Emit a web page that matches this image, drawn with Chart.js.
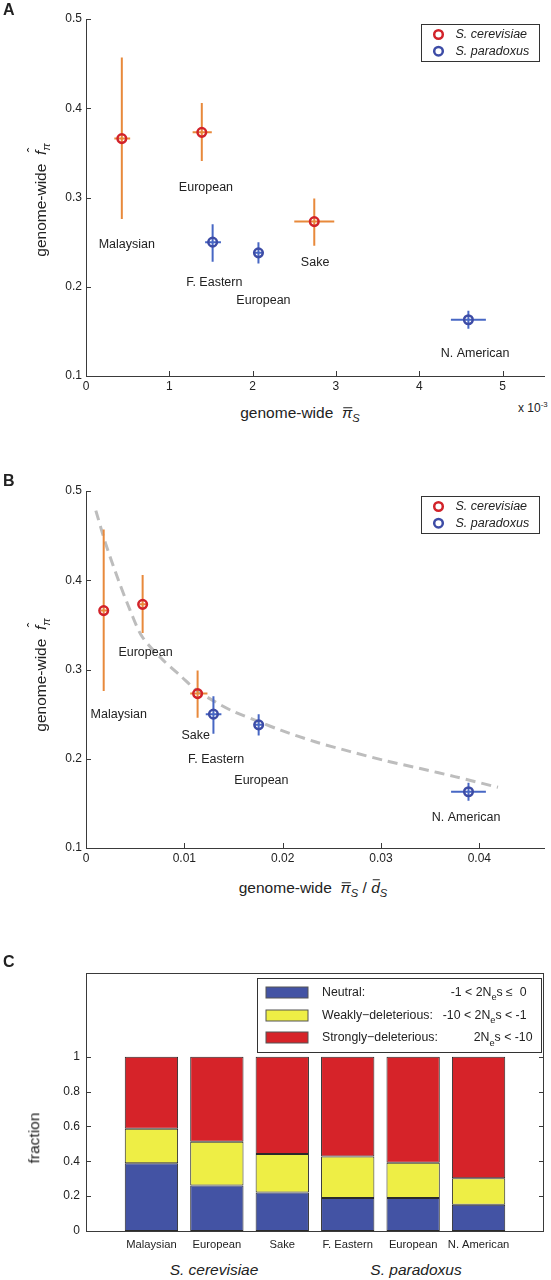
<!DOCTYPE html>
<html><head><meta charset="utf-8">
<script src="https://cdn.jsdelivr.net/npm/chart.js@4.4.1/dist/chart.umd.min.js"></script>
<style>
html,body{margin:0;padding:0;background:#fff;}
#page{position:relative;width:551px;height:1280px;overflow:hidden;font-family:'Liberation Sans',Arial,Helvetica,sans-serif;color:#222;}
canvas{position:absolute;left:0;}
.t{position:absolute;line-height:1;white-space:nowrap;transform:translate(-50%,-50%);}
.l{transform:translate(0,-50%);}
.rot{transform:translate(-50%,-50%) rotate(-90deg);}
.lt{font-weight:bold;font-size:16px;}
sub{font-size:0.72em;vertical-align:-0.3em;line-height:0;}
sup{font-size:0.65em;vertical-align:0.6em;line-height:0;}
.bar{position:relative;display:inline-block;}
.bar::after{content:'';position:absolute;left:0.08em;right:-0.02em;top:0.1em;border-top:1.2px solid #222;}
.bar.hi::after{top:-0.04em;}
.hat{position:relative;display:inline-block;}
.hat .h{position:absolute;left:0.2em;top:-0.42em;font-style:normal;font-size:0.9em;}
</style></head>
<body><div id="page">
<canvas id="cA" width="551" height="400" style="top:0px"></canvas>
<canvas id="cB" width="551" height="400" style="top:472px"></canvas>
<canvas id="cC" width="551" height="310" style="top:950px"></canvas>

<div class="t l lt" style="left:3px;top:10px">A</div>
<div class="t l lt" style="left:3px;top:481px">B</div>
<div class="t l lt" style="left:3px;top:962px">C</div>

<div class="t rot" style="left:40.5px;top:200px;font-size:15.5px">genome-wide&nbsp;&nbsp;<span class="hat"><i>f</i><span class="h">ˆ</span></span><sub><i>π</i></sub></div>
<div class="t" style="left:300px;top:413px;font-size:15.5px">genome-wide&nbsp;&nbsp;<span class="bar"><i>π</i></span><sub><i>S</i></sub></div>
<div class="t l" style="left:518px;top:408px;font-size:12px">x 10<sup>-3</sup></div>

<div class="t rot" style="left:40.5px;top:675px;font-size:15.5px">genome-wide&nbsp;&nbsp;<span class="hat"><i>f</i><span class="h">ˆ</span></span><sub><i>π</i></sub></div>
<div class="t" style="left:313px;top:888px;font-size:15.5px">genome-wide&nbsp;&nbsp;<span class="bar"><i>π</i></span><sub><i>S</i></sub> / <span class="bar hi"><i>d</i></span><sub><i>S</i></sub></div>

<div class="t rot" style="left:33.5px;top:1137.5px;font-size:15.5px">fraction</div>
<div class="t" style="left:214px;top:1269.5px;font-size:15.5px;font-style:italic">S. cerevisiae</div>
<div class="t" style="left:416px;top:1269.5px;font-size:15.5px;font-style:italic">S. paradoxus</div>
</div>
<script>
// ---------- data ----------
const populations = ['Malaysian', 'European', 'Sake', 'F. Eastern', 'European', 'N. American'];
const popSpecies = [0, 0, 0, 1, 1, 1];
const speciesNames = ['S. cerevisiae', 'S. paradoxus'];

// Panel A: genome-wide piS (x 10^-3) vs f_pi
const piS   = [0.43, 1.39, 2.74, 1.52, 2.07, 4.59];
const piSLo = [0.34, 1.28, 2.50, 1.43, 2.02, 4.38];
const piSHi = [0.53, 1.51, 2.98, 1.62, 2.13, 4.80];
const fPi   = [0.366, 0.373, 0.273, 0.250, 0.238, 0.163];
const fPiLo = [0.276, 0.341, 0.246, 0.228, 0.226, 0.153];
const fPiHi = [0.457, 0.406, 0.299, 0.270, 0.250, 0.173];
const annotXA = [0.49, 1.44, 2.75, 1.54, 2.13, 4.67];
const annotYA = [0.247, 0.311, 0.227, 0.205, 0.184, 0.125];
const xTicksA = [0, 1, 2, 3, 4, 5];
const yTicksAB = [0.1, 0.2, 0.3, 0.4, 0.5];

// Panel B: piS / dS vs f_pi
const piSdS   = [0.00180, 0.00576, 0.01135, 0.01296, 0.01756, 0.0389];
const piSdSLo = [0.00150, 0.00545, 0.01060, 0.01218, 0.01713, 0.03713];
const piSdSHi = [0.00215, 0.00610, 0.01235, 0.01377, 0.01802, 0.04067];
const annotXB = [0.00333, 0.00605, 0.01115, 0.01324, 0.01784, 0.03866];
const annotYB = [0.2495, 0.319, 0.2264, 0.1987, 0.1751, 0.1336];
const curveX = [0.0010, 0.0020, 0.0033, 0.0045, 0.0057, 0.0077, 0.0097, 0.0112, 0.0131, 0.0148, 0.0177, 0.0198, 0.0233, 0.0269, 0.0304, 0.0340, 0.0375, 0.0419];
const curveY = [0.478, 0.441, 0.400, 0.366, 0.337, 0.312, 0.292, 0.277, 0.264, 0.254, 0.241, 0.232, 0.219, 0.208, 0.198, 0.189, 0.180, 0.168];
const xTicksB = [0, 0.01, 0.02, 0.03, 0.04];

// Panel C: fractions of mutation classes
const neutral = [0.388, 0.261, 0.221, 0.190, 0.190, 0.150];
const weak    = [0.199, 0.251, 0.221, 0.238, 0.202, 0.153];
const strong  = [0.413, 0.488, 0.558, 0.572, 0.608, 0.697];
const classNames = ['Neutral:', 'Weakly\u2212deleterious:', 'Strongly\u2212deleterious:'];
const classRanges = [
  [['-1 < 2N', 0], ['e', 1], ['s \u2264  0', 0]],
  [['-10 < 2N', 0], ['e', 1], ['s < -1', 0]],
  [['2N', 0], ['e', 1], ['s < -10', 0]]
];
const xTicksC = [0, 1, 2, 3, 4, 5, 6, 7];
const yTicksC = [0, 0.2, 0.4, 0.6, 0.8, 1];

// ---------- styles ----------
const FONT = "'Liberation Sans', Arial, Helvetica, sans-serif";
const AXIS = '#3a3a3a';
const errColors = ['#E8893B', '#4767C4'];
const markerColors = ['#D2232A', '#3D4CA6'];
const classColors = ['#4353A4', '#EEEE45', '#D62329'];

Chart.defaults.font.family = FONT;
Chart.defaults.color = '#222';
Chart.defaults.animation = false;
Chart.defaults.events = [];
Chart.defaults.plugins.legend.display = false;
Chart.defaults.plugins.tooltip.enabled = false;

function linScale(min, max, tickVals, fitFn, pad, size, extra) {
  return Object.assign({
    type: 'linear', min: min, max: max,
    afterBuildTicks: s => { s.ticks = tickVals.map(v => ({ value: v })); },
    afterFit: fitFn,
    grid: { display: false, drawTicks: false },
    border: { display: true, color: AXIS, width: 1 },
    ticks: { padding: pad, font: { size: size }, color: '#222', autoSkip: false, maxRotation: 0, callback: v => String(v) }
  }, extra || {});
}

function inTicks(opts) {
  return {
    id: 'inTicks',
    afterDraw(chart) {
      const { ctx, chartArea: a } = chart;
      const xs = chart.scales.x, ys = chart.scales.y;
      ctx.save();
      ctx.strokeStyle = AXIS; ctx.lineWidth = 1;
      ctx.beginPath();
      if (opts.x) xs.ticks.forEach(t => {
        const p = Math.round(xs.getPixelForValue(t.value)) + 0.5;
        ctx.moveTo(p, a.bottom); ctx.lineTo(p, a.bottom - opts.len);
      });
      ys.ticks.forEach(t => {
        const p = Math.round(ys.getPixelForValue(t.value)) + 0.5;
        ctx.moveTo(a.left, p); ctx.lineTo(a.left + opts.len, p);
        if (opts.right) { ctx.moveTo(a.right, p); ctx.lineTo(a.right - opts.len, p); }
      });
      ctx.stroke();
      if (opts.box) {
        ctx.strokeRect(Math.round(a.left) + 0.5, Math.round(a.top) + 0.5, Math.round(a.right - a.left) - 1, Math.round(a.bottom - a.top));
      }
      ctx.restore();
    }
  };
}

function annotations(xs, ys) {
  return {
    id: 'annot',
    afterDatasetsDraw(chart) {
      const { ctx } = chart;
      ctx.save();
      ctx.font = '12.5px ' + FONT;
      ctx.fillStyle = '#222';
      ctx.textAlign = 'center';
      ctx.textBaseline = 'middle';
      populations.forEach((name, i) => {
        ctx.fillText(name, chart.scales.x.getPixelForValue(xs[i]), chart.scales.y.getPixelForValue(ys[i]));
      });
      ctx.restore();
    }
  };
}

const scatterLegend = {
  id: 'slegend',
  afterDraw(chart) {
    const { ctx, chartArea: a } = chart;
    const x0 = Math.round(a.right - 123) + 0.5, y0 = Math.round(a.top + 5) + 0.5, w = 118, h = 37;
    ctx.save();
    ctx.fillStyle = '#fff'; ctx.fillRect(x0, y0, w, h);
    ctx.strokeStyle = '#333'; ctx.lineWidth = 1; ctx.strokeRect(x0, y0, w, h);
    const marks = chart.data.datasets.filter(d => d.isMarker);
    marks.forEach((d, k) => {
      const cy = y0 + 10 + k * 16.7;
      ctx.beginPath(); ctx.arc(x0 + 17, cy, 4.3, 0, Math.PI * 2);
      ctx.lineWidth = 2.5; ctx.strokeStyle = d.pointBorderColor; ctx.stroke();
      ctx.fillStyle = '#222'; ctx.font = 'italic 12.5px ' + FONT;
      ctx.textAlign = 'left'; ctx.textBaseline = 'middle';
      ctx.fillText(d.label, x0 + 34, cy + 0.5);
    });
    ctx.restore();
  }
};

function scatterDatasets(xs, xLo, xHi, ys, yLo, yHi) {
  const out = [];
  [0, 1].forEach(s => {
    out.push({
      label: speciesNames[s], isMarker: true, order: 0,
      data: xs.map((x, i) => ({ x: x, y: ys[i] })).filter((_, i) => popSpecies[i] === s),
      pointRadius: 4.3, pointBorderWidth: 2.5,
      pointBorderColor: markerColors[s], pointBackgroundColor: 'rgba(0,0,0,0)'
    });
  });
  xs.forEach((x, i) => {
    const c = errColors[popSpecies[i]];
    out.push({ order: 1, showLine: true, pointRadius: 0, borderColor: c, borderWidth: 2,
      data: [{ x: xLo[i], y: ys[i] }, { x: xHi[i], y: ys[i] }] });
    out.push({ order: 1, showLine: true, pointRadius: 0, borderColor: c, borderWidth: 2,
      data: [{ x: x, y: yLo[i] }, { x: x, y: yHi[i] }] });
  });
  return out;
}

// ---------- Panel A ----------
new Chart(document.getElementById('cA'), {
  type: 'scatter',
  data: { datasets: scatterDatasets(piS, piSLo, piSHi, fPi, fPiLo, fPiHi) },
  options: {
    responsive: false,
    layout: { padding: { top: 19, right: 1, left: 0, bottom: 0 } },
    scales: {
      x: linScale(0, 5.5, xTicksA, s => { s.height = 24; }, 3, 12),
      y: linScale(0.1, 0.5, yTicksAB, s => { s.width = 86; }, 4, 12)
    }
  },
  plugins: [inTicks({ x: true, len: 5 }), annotations(annotXA, annotYA), scatterLegend]
});

// ---------- Panel B ----------
const dsB = scatterDatasets(piSdS, piSdSLo, piSdSHi, fPi, fPiLo, fPiHi);
dsB.push({
  order: 2, showLine: true, pointRadius: 0, borderColor: '#BDBDBD', borderWidth: 3,
  borderDash: [10, 6], tension: 0.3,
  data: curveX.map((x, i) => ({ x: x, y: curveY[i] }))
});
new Chart(document.getElementById('cB'), {
  type: 'scatter',
  data: { datasets: dsB },
  options: {
    responsive: false,
    layout: { padding: { top: 19, right: 1, left: 0, bottom: 0 } },
    scales: {
      x: linScale(0, 0.0466, xTicksB, s => { s.height = 24; }, 3, 12),
      y: linScale(0.1, 0.5, yTicksAB, s => { s.width = 86; }, 4, 12)
    }
  },
  plugins: [inTicks({ x: true, len: 5 }), annotations(annotXB, annotYB), scatterLegend]
});

// ---------- Panel C ----------
function drawRich(ctx, segs, xRight, y, size) {
  let total = 0;
  const ws = segs.map(sg => {
    ctx.font = (sg[1] ? size * 0.75 : size) + 'px ' + FONT;
    const w = ctx.measureText(sg[0]).width; total += w; return w;
  });
  let x = xRight - total;
  segs.forEach((sg, i) => {
    ctx.font = (sg[1] ? size * 0.75 : size) + 'px ' + FONT;
    ctx.fillText(sg[0], x, y + (sg[1] ? size * 0.42 : 0));
    x += ws[i];
  });
}
const barLegend = {
  id: 'blegend',
  afterDraw(chart) {
    const { ctx, chartArea: a } = chart;
    const x0 = Math.round(a.right - 287) + 0.5, y0 = Math.round(a.top + 5) + 0.5, w = 284, h = 74;
    ctx.save();
    ctx.fillStyle = '#fff'; ctx.fillRect(x0, y0, w, h);
    ctx.strokeStyle = '#333'; ctx.lineWidth = 1; ctx.strokeRect(x0, y0, w, h);
    chart.data.datasets.forEach((d, k) => {
      const cy = y0 + 14 + k * 22.7;
      ctx.fillStyle = d.backgroundColor;
      ctx.fillRect(x0 + 8.5, Math.round(cy - 5.5), 42, 11);
      ctx.strokeStyle = '#555'; ctx.lineWidth = 1;
      ctx.strokeRect(x0 + 8.5, Math.round(cy - 5.5), 42, 11);
      ctx.fillStyle = '#222'; ctx.textBaseline = 'middle'; ctx.textAlign = 'left';
      ctx.font = '12.3px ' + FONT;
      ctx.fillText(classNames[k], x0 + 64.5, cy);
      drawRich(ctx, classRanges[k], x0 + (k === 2 ? 275 : 269), cy, 12.3);
    });
    ctx.restore();
  }
};
const classData = [neutral, weak, strong];
new Chart(document.getElementById('cC'), {
  type: 'bar',
  data: {
    datasets: classData.map((arr, k) => ({
      label: classNames[k],
      data: arr.map((v, i) => ({ x: i + 1, y: v })),
      backgroundColor: classColors[k], borderColor: '#2a2a2a', borderWidth: 1, borderSkipped: false,
      barPercentage: 0.815, categoryPercentage: 1
    }))
  },
  options: {
    responsive: false,
    layout: { padding: { top: 23, right: 1, left: 0, bottom: 0 } },
    scales: {
      x: linScale(0, 7, xTicksC, s => { s.height = 29; }, 7, 11.2, {
        stacked: true, offset: false, border: { display: false },
        ticks: { padding: 7, font: { size: 11.2 }, color: '#222', autoSkip: false, maxRotation: 0,
          callback: v => populations[v - 1] || '' }
      }),
      y: linScale(0, 1.48, yTicksC, s => { s.width = 86; }, 6, 12, { stacked: true, border: { display: false } })
    }
  },
  plugins: [inTicks({ x: false, right: true, box: true, len: 5 }), barLegend]
});
</script>
</body></html>
